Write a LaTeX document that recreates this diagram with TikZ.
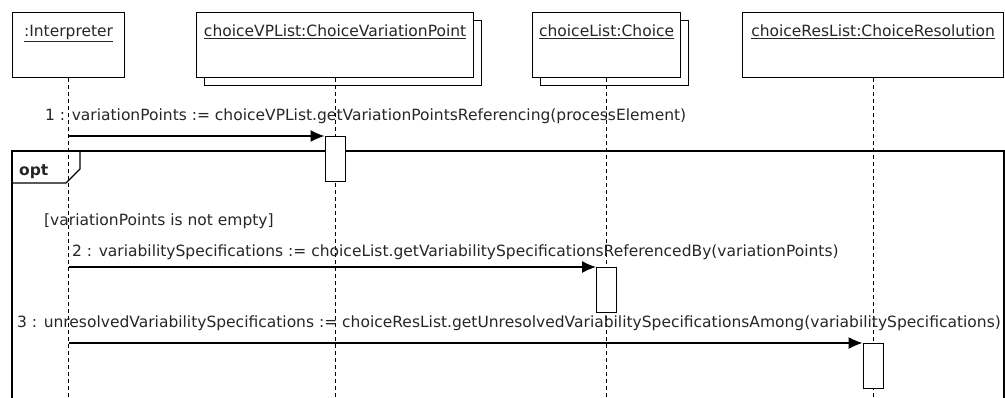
\documentclass[tikz,border=0pt]{standalone}
\usepackage{fontspec}
\setmainfont{DejaVu Sans}
\usetikzlibrary{arrows.meta,shadows,positioning}
\tikzstyle{objbox}=[rectangle, draw, fill=white, line width=1.2pt,
minimum height=65pt, anchor=north west, inner sep=0pt]
\tikzstyle{lstbox}=[objbox, copy shadow={shadow xshift=8pt, shadow yshift=-8pt, draw=black, fill=white, line width=1.2pt}]
\tikzstyle{actbox}=[rectangle, draw, fill=white, line width=1.2pt,
minimum width=20pt, minimum height=45pt, anchor=north, inner sep=0pt]
\tikzstyle{lifeln}=[line width=1.2pt, dash pattern=on 4pt off 3pt]
\tikzstyle{msg}=[-{Latex[length=14pt,width=12pt]}, line width=1.2pt]
\tikzstyle{lbl}=[font=\fontsize{15.5}{18}\selectfont, inner sep=0pt, text=black!85]

\begin{document}
\begin{tikzpicture}[x=1pt,y=-1pt]
\useasboundingbox (0,0) rectangle (1005,398);

\coordinate (bot) at (0,400);

% objects
\node[objbox,minimum width=112pt] (interp) at (12,12) {};
\node[lstbox,minimum width=277pt] (vplist) at (196,12) {};
\node[lstbox,minimum width=148pt] (chlist) at (532,12) {};
\node[objbox,minimum width=261pt] (reslist) at (742,12) {};

\node[lbl,anchor=base] (interpT) at ([yshift=-25pt]interp.north) {\underline{:Interpreter}};
\node[lbl,anchor=base] (vplistT) at ([yshift=-25pt]vplist.north) {\underline{choiceVPList:ChoiceVariationPoint}};
\node[lbl,anchor=base] (chlistT) at ([yshift=-25pt]chlist.north) {\underline{choiceList:Choice}};
\node[lbl,anchor=base] (reslistT) at ([yshift=-25pt]reslist.north) {\underline{choiceResList:ChoiceResolution}};

% opt fragment
\draw[line width=1.2pt] (12,400) -- (12,151) -- (1004,151) -- (1004,400);
\draw[line width=1.2pt] (12,183) -- (66,183) -- (80,169) -- (80,151);
\node[lbl,anchor=base west,font=\fontsize{15.5}{18}\selectfont\bfseries] (optT) at (19,176) {opt};

% lifelines
\draw[lifeln] (interp) -- (interp |- bot);
\draw[lifeln] (vplist) -- (vplist |- bot);
\draw[lifeln] (chlist) -- (chlist |- bot);
\draw[lifeln] (reslist) -- (reslist |- bot);

% messages
\coordinate (m1) at (interp |- 0,136);
\coordinate (m2) at (interp |- 0,267);
\coordinate (m3) at (interp |- 0,343);

\node[actbox] (act1) at (vplist |- m1) {};
\node[actbox] (act2) at (chlist |- m2) {};
\node[actbox] (act3) at (reslist |- m3) {};

\draw[msg] (m1) -- (act1.north west);
\draw[msg] (m2) -- (act2.north west);
\draw[msg] (m3) -- (act3.north west);

\node[lbl,anchor=base west] (m1T) at (45,121) {1 : variationPoints := choiceVPList.getVariationPointsReferencing(processElement)};
\node[lbl,anchor=base west] (guardT) at (44,226) {[variationPoints is not empty]};
\node[lbl,anchor=base west] (m2T) at (72,257) {2 : variabilitySpecifications := choiceList.getVariabilitySpecificationsReferencedBy(variationPoints)};
\node[lbl,anchor=base west] (m3T) at (17,327) {3 : unresolvedVariabilitySpecifications := choiceResList.getUnresolvedVariabilitySpecificationsAmong(variabilitySpecifications)};

\end{tikzpicture}
\end{document}
